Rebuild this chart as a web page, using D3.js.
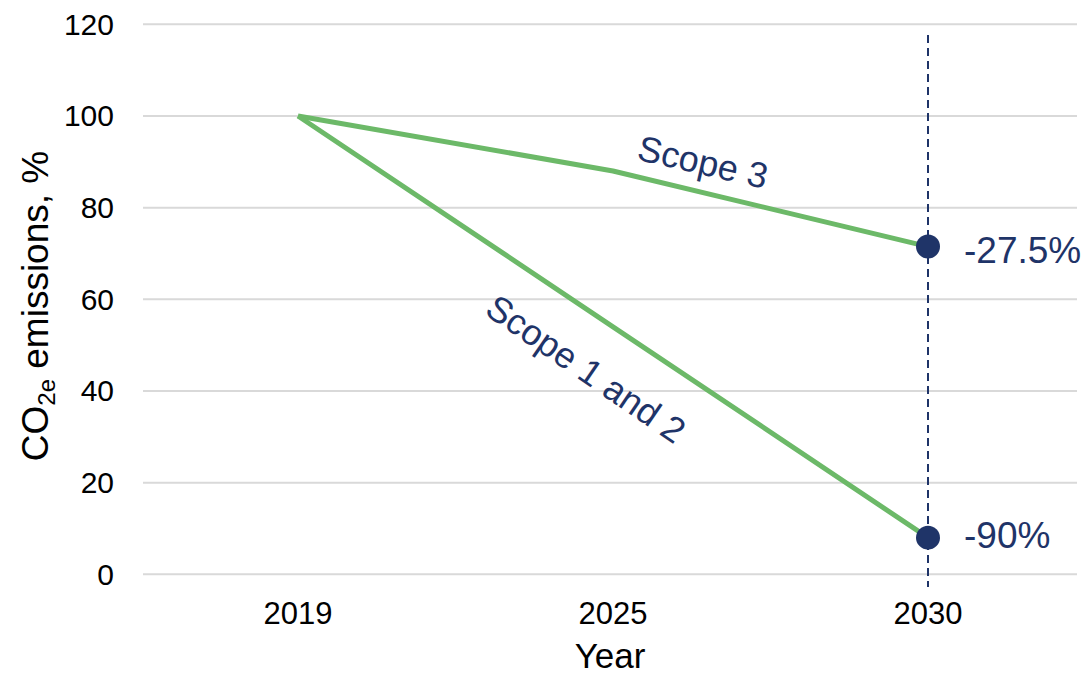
<!DOCTYPE html>
<html>
<head>
<meta charset="utf-8">
<script src="https://cdn.jsdelivr.net/npm/d3@7"></script>
<style>
  body { margin: 0; background: #fff; }
  text { font-family: "Liberation Sans", Arial, sans-serif; }
</style>
</head>
<body>
<script>
// Data
var years = ["2019", "2025", "2030"];
var scope12 = [100, 54, 8];
var scope3 = [100, 88, 71.5];
var yTicks = [0, 20, 40, 60, 80, 100, 120];
var endLabels = ["-90%", "-27.5%"];

var width = 1084, height = 674;
var plotLeft = 143, plotRight = 1077, plotTop = 24.3, plotBottom = 574.3;

var navy = "#1f3468", green = "#6cb968";

var svg = d3.select("body")
    .append("svg")
    .attr("width", width)
    .attr("height", height);

var x = d3.scalePoint()
    .domain(years)
    .range([298, 928]);

var y = d3.scaleLinear()
    .domain([0, 120])
    .range([plotBottom, plotTop]);

// Gridlines
svg.append("g")
    .selectAll("line")
    .data(yTicks)
    .enter().append("line")
    .attr("x1", plotLeft)
    .attr("x2", plotRight)
    .attr("y1", function(d) { return y(d); })
    .attr("y2", function(d) { return y(d); })
    .attr("stroke", "#d9d9d9")
    .attr("stroke-width", 2);

// Y tick labels
svg.append("g")
    .selectAll("text")
    .data(yTicks)
    .enter().append("text")
    .attr("x", 114)
    .attr("y", function(d) { return y(d); })
    .attr("dy", "0.35em")
    .attr("text-anchor", "end")
    .attr("font-size", 30)
    .attr("fill", "#000")
    .text(function(d) { return d; });

// X tick labels
svg.append("g")
    .selectAll("text")
    .data(years)
    .enter().append("text")
    .attr("x", function(d) { return x(d); })
    .attr("y", 624)
    .attr("text-anchor", "middle")
    .attr("font-size", 31)
    .attr("fill", "#000")
    .text(function(d) { return d; });

// Axis titles
svg.append("text")
    .attr("x", (plotLeft + plotRight) / 2)
    .attr("y", 668)
    .attr("text-anchor", "middle")
    .attr("font-size", 35)
    .attr("fill", "#000")
    .text("Year");

var yTitle = svg.append("text")
    .attr("transform", "translate(48,306) rotate(-90)")
    .attr("text-anchor", "middle")
    .attr("font-size", 37)
    .attr("fill", "#000");
yTitle.append("tspan").text("CO");
yTitle.append("tspan").attr("font-size", 24).attr("dy", 7).text("2e");
yTitle.append("tspan").attr("dy", -7).text(" emissions, %");

// Dashed target line at 2030
svg.append("line")
    .attr("x1", x("2030"))
    .attr("x2", x("2030"))
    .attr("y1", 35)
    .attr("y2", 587)
    .attr("stroke", navy)
    .attr("stroke-width", 2)
    .attr("stroke-dasharray", "8,5");

// Lines
var line = d3.line()
    .x(function(d, i) { return x(years[i]); })
    .y(function(d) { return y(d); });

[scope3, scope12].forEach(function(s) {
  svg.append("path")
      .datum(s)
      .attr("fill", "none")
      .attr("stroke", green)
      .attr("stroke-width", 5)
      .attr("stroke-linejoin", "round")
      .attr("d", line);
});

// End points and labels
var ends = [scope12[2], scope3[2]];
var labelDy = [10, 16];
svg.append("g")
    .selectAll("circle")
    .data(ends)
    .enter().append("circle")
    .attr("cx", x("2030"))
    .attr("cy", function(d) { return y(d); })
    .attr("r", 12)
    .attr("fill", navy);

svg.append("g")
    .selectAll("text")
    .data(ends)
    .enter().append("text")
    .attr("x", x("2030") + 36)
    .attr("y", function(d, i) { return y(d) + labelDy[i]; })
    .attr("font-size", 37)
    .attr("fill", navy)
    .text(function(d, i) { return endLabels[i]; });

// Series labels
svg.append("text")
    .attr("transform", "translate(" + (x("2025") + 90) + "," + (y(scope3[1]) - 9) + ") rotate(13)")
    .attr("text-anchor", "middle")
    .attr("dy", "0.35em")
    .attr("font-size", 36)
    .attr("fill", navy)
    .text("Scope 3");

svg.append("text")
    .attr("transform", "translate(" + (x("2025") - 27) + "," + (y(scope12[1]) + 42) + ") rotate(34.5)")
    .attr("text-anchor", "middle")
    .attr("dy", "0.35em")
    .attr("font-size", 36)
    .attr("fill", navy)
    .text("Scope 1 and 2");
</script>
</body>
</html>
